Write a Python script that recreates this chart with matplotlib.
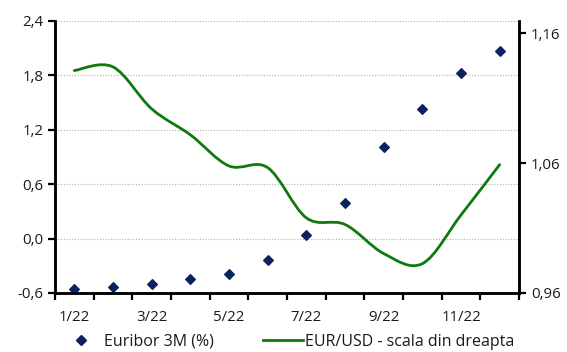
import matplotlib
matplotlib.use("Agg")
import matplotlib.pyplot as plt
import numpy as np
from matplotlib.path import Path
from matplotlib.patches import PathPatch
from matplotlib.lines import Line2D

plt.rcParams['font.family'] = ['Open Sans', 'DejaVu Sans']

# monthly averages, 2022
months = ["1/22", "2/22", "3/22", "4/22", "5/22", "6/22",
          "7/22", "8/22", "9/22", "10/22", "11/22", "12/22"]
euribor = [-0.560, -0.531, -0.500, -0.450, -0.386, -0.236,
           0.036, 0.395, 1.011, 1.428, 1.825, 2.063]
eurusd = [1.1314, 1.1342, 1.1019, 1.0819, 1.0579, 1.0566,
          1.0179, 1.0128, 0.9904, 0.9826, 1.0201, 1.0589]

left_ticks = [-0.6, 0.0, 0.6, 1.2, 1.8, 2.4]
right_ticks = [0.96, 1.06, 1.16]

navy = '#0b2160'
green = '#0e7a0e'
txt = '#1a1a1a'


def smooth_path(xs, ys):
    # cubic bezier through the points (catmull-rom style tangents)
    xs = np.asarray(xs, float)
    ys = np.asarray(ys, float)
    n = len(xs)
    verts = [(xs[0], ys[0])]
    codes = [Path.MOVETO]
    for i in range(n - 1):
        p0 = i - 1 if i > 0 else i
        p3 = i + 2 if i + 2 < n else i + 1
        c1 = (xs[i] + (xs[i + 1] - xs[p0]) / 6, ys[i] + (ys[i + 1] - ys[p0]) / 6)
        c2 = (xs[i + 1] - (xs[p3] - xs[i]) / 6, ys[i + 1] - (ys[p3] - ys[i]) / 6)
        verts += [c1, c2, (xs[i + 1], ys[i + 1])]
        codes += [Path.CURVE4] * 3
    return Path(verts, codes)


fig = plt.figure(figsize=(5.67, 3.52), dpi=100)
ax = fig.add_axes([55 / 567, 1 - 293 / 352, (519 - 55) / 567, (293 - 20.7) / 352])
ax2 = ax.twinx()

x = np.arange(len(months))

ax.scatter(x, euribor, marker='D', s=24, color=navy, zorder=3)
ax.set_xlim(-0.5, len(months) - 0.5)
ax.set_ylim(-0.6, 2.4)
ax.set_yticks(left_ticks)
ax.set_yticklabels([f"{v:.1f}".replace('.', ',') for v in left_ticks])
ax.yaxis.grid(True, linestyle=(0, (1, 1.5)), color='#b0b0b0', linewidth=0.8)
ax.set_axisbelow(True)

ax.set_xticks(np.arange(-0.5, len(months), 1.0))
ax.set_xticklabels([])
ax.set_xticks(x[::2], minor=True)
ax.set_xticklabels(months[::2], minor=True)
ax.tick_params(axis='x', which='major', direction='out', length=5, width=1.6, color='black')
ax.tick_params(axis='x', which='minor', length=0, pad=12, labelsize=10.8, labelcolor=txt)
ax.tick_params(axis='y', direction='out', length=5, width=1.6, labelsize=10.8, labelcolor=txt)

ax2.set_ylim(0.96, 1.1698)
ax2.set_yticks(right_ticks)
ax2.set_yticklabels([f"{v:.2f}".replace('.', ',') for v in right_ticks])
ax2.tick_params(axis='y', direction='out', length=5, width=1.6, labelsize=10.8, labelcolor=txt)
ax2.add_patch(PathPatch(smooth_path(x, eurusd), facecolor='none', edgecolor=green,
                        linewidth=2.0, capstyle='round', joinstyle='round', zorder=2))

for a in (ax, ax2):
    a.spines['top'].set_visible(False)
    for s in ('left', 'right', 'bottom'):
        a.spines[s].set_linewidth(1.8)
        a.spines[s].set_color('black')

handles = [
    Line2D([], [], marker='D', linestyle='none', color=navy, markersize=4.8),
    Line2D([], [], color=green, linewidth=2.0),
]
fig.legend(handles, ["Euribor 3M (%)", "EUR/USD - scala din dreapta"],
           loc='center', bbox_to_anchor=(288 / 567, 1 - 342 / 352), ncol=2,
           frameon=False, fontsize=11.5, labelcolor=txt, columnspacing=3.1,
           handlelength=2.5, handletextpad=0.15, borderpad=0)

fig.savefig("out.png", dpi=100)
